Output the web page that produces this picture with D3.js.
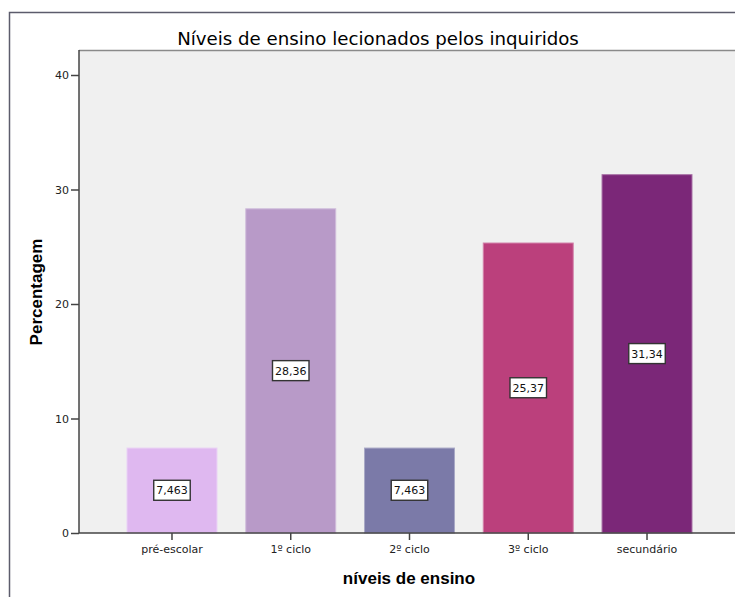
<!DOCTYPE html>
<html>
<head>
<meta charset="utf-8">
<script src="https://cdn.jsdelivr.net/npm/d3@7"></script>
<style>
  html, body { margin: 0; padding: 0; background: #fff; overflow: hidden; }
  svg { display: block; font-family: "Liberation Sans", Arial, sans-serif; }
</style>
</head>
<body>
<svg id="chart" width="735" height="597"></svg>
<script>
const categories = ["pré-escolar", "1º ciclo", "2º ciclo", "3º ciclo", "secundário"];
const values = [7.463, 28.36, 7.463, 25.37, 31.34];
const valueLabels = ["7,463", "28,36", "7,463", "25,37", "31,34"];
const barColors = ["#dfb8f0", "#b89ac8", "#7b7aa8", "#bb407c", "#7b2778"];
const yTicks = [0, 10, 20, 30, 40];
const title = "Níveis de ensino lecionados pelos inquiridos";
const xTitle = "níveis de ensino";
const yTitle = "Percentagem";

const svg = d3.select("#chart");
const W = 735, H = 597;
const plotLeft = 79, plotRight = 740, plotTop = 50, plotBottom = 533;
const smallFont = "'DejaVu Sans', 'Liberation Sans', sans-serif";

// outer frame
svg.append("rect")
  .attr("x", 9.5).attr("y", 12.5)
  .attr("width", W + 20).attr("height", H + 20)
  .attr("fill", "#fff").attr("stroke", "#5c5c6c").attr("stroke-width", 1.5);

const y = d3.scaleLinear().domain([0, 40]).range([plotBottom, 75]);
const x = d3.scaleBand().domain(categories).range([plotLeft, plotRight])
  .paddingInner(0.234).paddingOuter(0.4);

// plot background
svg.append("rect")
  .attr("x", plotLeft).attr("y", plotTop)
  .attr("width", plotRight - plotLeft).attr("height", plotBottom - plotTop)
  .attr("fill", "#f0f0f0");
svg.append("line")
  .attr("x1", plotLeft).attr("x2", W).attr("y1", plotTop + 0.5).attr("y2", plotTop + 0.5)
  .attr("stroke", "#8a8a8a").attr("stroke-width", 1.5);

// bars
svg.append("g").selectAll("rect")
  .data(categories)
  .join("rect")
  .attr("x", d => x(d) + 0.5)
  .attr("y", (d, i) => y(values[i]) + 0.5)
  .attr("width", x.bandwidth() - 1)
  .attr("height", (d, i) => y(0) - y(values[i]) - 0.5)
  .attr("fill", (d, i) => barColors[i])
  .attr("stroke", (d, i) => d3.interpolateRgb(barColors[i], "#ffffff")(0.35))
  .attr("stroke-width", 1);

// axes
const yAxis = svg.append("g").attr("transform", `translate(${plotLeft},0)`)
  .call(d3.axisLeft(y).tickValues(yTicks).tickSize(8).tickPadding(2).tickFormat(d3.format("d")));
const xAxis = svg.append("g").attr("transform", `translate(0,${plotBottom})`)
  .call(d3.axisBottom(x).tickSize(7).tickPadding(5));
[yAxis, xAxis].forEach(g => {
  g.select(".domain").attr("stroke", "#444").attr("stroke-width", 1.5);
  g.selectAll(".tick line").attr("stroke", "#444").attr("stroke-width", 1.5);
  g.selectAll(".tick text").attr("fill", "#222").attr("font-size", 11)
    .attr("font-family", smallFont);
});
yAxis.select(".domain").attr("d", `M0,${plotTop}V${plotBottom}`);
xAxis.select(".domain").attr("d", `M${plotLeft},0H${W}`);

// value labels
const lab = svg.append("g").selectAll("g")
  .data(categories)
  .join("g")
  .attr("transform", (d, i) => `translate(${x(d) + x.bandwidth() / 2},${(y(values[i]) + y(0)) / 2})`);
lab.append("text")
  .attr("text-anchor", "middle").attr("dy", "0.36em")
  .attr("font-size", 11).attr("font-family", smallFont).attr("fill", "#111")
  .text((d, i) => valueLabels[i]);
lab.each(function() {
  const g = d3.select(this);
  const bb = g.select("text").node().getBBox();
  g.insert("rect", "text")
    .attr("x", bb.x - 2.5).attr("y", -10)
    .attr("width", bb.width + 5).attr("height", 20)
    .attr("fill", "#fff").attr("stroke", "#333").attr("stroke-width", 1.4);
});

// titles
svg.append("text")
  .attr("x", 378).attr("y", 45).attr("text-anchor", "middle")
  .attr("font-size", 18.2).attr("font-family", smallFont).attr("fill", "#000")
  .text(title);
svg.append("text")
  .attr("x", 409).attr("y", 584).attr("text-anchor", "middle")
  .attr("font-size", 17).attr("font-weight", "bold").attr("fill", "#000")
  .text(xTitle);
svg.append("text")
  .attr("transform", "translate(42,292) rotate(-90)")
  .attr("text-anchor", "middle")
  .attr("font-size", 17).attr("font-weight", "bold").attr("fill", "#000")
  .text(yTitle);
</script>
</body>
</html>
